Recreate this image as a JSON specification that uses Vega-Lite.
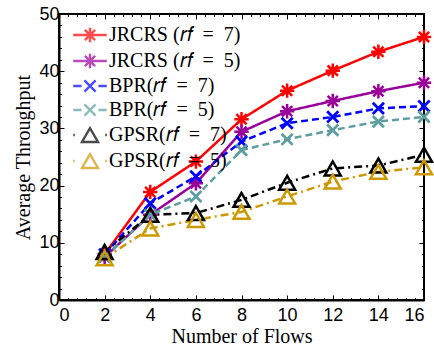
{
  "$schema": "https://vega.github.io/schema/vega-lite/v6.json",
  "width": 365,
  "height": 286,
  "autosize": "none",
  "padding": {"left": 59, "top": 14, "right": 10, "bottom": 46},
  "background": "white",
  "config": {
    "view": {"stroke": "black", "strokeWidth": 2},
    "axis": {"grid": false, "domainColor": "black", "domainWidth": 2, "tickColor": "black", "tickWidth": 1, "labelColor": "black", "titleColor": "black", "labelFont": "Liberation Sans", "labelFontSize": 18, "titleFont": "Liberation Serif", "titleFontSize": 20, "titleFontWeight": "normal"}
  },
  "data": {"values": [
      {"x": 2, "y": 8.0, "s": "JRCRS (𝑟𝑓\u2002=\u20027)"}, {"x": 4, "y": 18.9, "s": "JRCRS (𝑟𝑓\u2002=\u20027)"}, {"x": 6, "y": 24.2, "s": "JRCRS (𝑟𝑓\u2002=\u20027)"}, {"x": 8, "y": 31.6, "s": "JRCRS (𝑟𝑓\u2002=\u20027)"}, {"x": 10, "y": 36.6, "s": "JRCRS (𝑟𝑓\u2002=\u20027)"}, {"x": 12, "y": 40.1, "s": "JRCRS (𝑟𝑓\u2002=\u20027)"}, {"x": 14, "y": 43.4, "s": "JRCRS (𝑟𝑓\u2002=\u20027)"}, {"x": 16, "y": 46.0, "s": "JRCRS (𝑟𝑓\u2002=\u20027)"},
      {"x": 2, "y": 7.5, "s": "JRCRS (𝑟𝑓\u2002=\u20025)"}, {"x": 4, "y": 14.9, "s": "JRCRS (𝑟𝑓\u2002=\u20025)"}, {"x": 6, "y": 20.4, "s": "JRCRS (𝑟𝑓\u2002=\u20025)"}, {"x": 8, "y": 29.4, "s": "JRCRS (𝑟𝑓\u2002=\u20025)"}, {"x": 10, "y": 33.0, "s": "JRCRS (𝑟𝑓\u2002=\u20025)"}, {"x": 12, "y": 34.8, "s": "JRCRS (𝑟𝑓\u2002=\u20025)"}, {"x": 14, "y": 36.5, "s": "JRCRS (𝑟𝑓\u2002=\u20025)"}, {"x": 16, "y": 38.0, "s": "JRCRS (𝑟𝑓\u2002=\u20025)"},
      {"x": 2, "y": 8.0, "s": "BPR(𝑟𝑓\u2002=\u20027)"}, {"x": 4, "y": 16.9, "s": "BPR(𝑟𝑓\u2002=\u20027)"}, {"x": 6, "y": 21.6, "s": "BPR(𝑟𝑓\u2002=\u20027)"}, {"x": 8, "y": 27.7, "s": "BPR(𝑟𝑓\u2002=\u20027)"}, {"x": 10, "y": 30.9, "s": "BPR(𝑟𝑓\u2002=\u20027)"}, {"x": 12, "y": 32.0, "s": "BPR(𝑟𝑓\u2002=\u20027)"}, {"x": 14, "y": 33.5, "s": "BPR(𝑟𝑓\u2002=\u20027)"}, {"x": 16, "y": 33.9, "s": "BPR(𝑟𝑓\u2002=\u20027)"},
      {"x": 2, "y": 7.5, "s": "BPR(𝑟𝑓\u2002=\u20025)"}, {"x": 4, "y": 14.9, "s": "BPR(𝑟𝑓\u2002=\u20025)"}, {"x": 6, "y": 18.1, "s": "BPR(𝑟𝑓\u2002=\u20025)"}, {"x": 8, "y": 26.2, "s": "BPR(𝑟𝑓\u2002=\u20025)"}, {"x": 10, "y": 28.1, "s": "BPR(𝑟𝑓\u2002=\u20025)"}, {"x": 12, "y": 29.7, "s": "BPR(𝑟𝑓\u2002=\u20025)"}, {"x": 14, "y": 31.2, "s": "BPR(𝑟𝑓\u2002=\u20025)"}, {"x": 16, "y": 32.0, "s": "BPR(𝑟𝑓\u2002=\u20025)"},
      {"x": 2, "y": 8.4, "s": "GPSR(𝑟𝑓\u2002=\u20027)"}, {"x": 4, "y": 14.9, "s": "GPSR(𝑟𝑓\u2002=\u20027)"}, {"x": 6, "y": 15.2, "s": "GPSR(𝑟𝑓\u2002=\u20027)"}, {"x": 8, "y": 17.5, "s": "GPSR(𝑟𝑓\u2002=\u20027)"}, {"x": 10, "y": 20.5, "s": "GPSR(𝑟𝑓\u2002=\u20027)"}, {"x": 12, "y": 23.0, "s": "GPSR(𝑟𝑓\u2002=\u20027)"}, {"x": 14, "y": 23.5, "s": "GPSR(𝑟𝑓\u2002=\u20027)"}, {"x": 16, "y": 25.4, "s": "GPSR(𝑟𝑓\u2002=\u20027)"},
      {"x": 2, "y": 7.3, "s": "GPSR(𝑟𝑓\u2002=\u20025)"}, {"x": 4, "y": 12.5, "s": "GPSR(𝑟𝑓\u2002=\u20025)"}, {"x": 6, "y": 14.0, "s": "GPSR(𝑟𝑓\u2002=\u20025)"}, {"x": 8, "y": 15.4, "s": "GPSR(𝑟𝑓\u2002=\u20025)"}, {"x": 10, "y": 18.1, "s": "GPSR(𝑟𝑓\u2002=\u20025)"}, {"x": 12, "y": 20.7, "s": "GPSR(𝑟𝑓\u2002=\u20025)"}, {"x": 14, "y": 22.4, "s": "GPSR(𝑟𝑓\u2002=\u20025)"}, {"x": 16, "y": 23.2, "s": "GPSR(𝑟𝑓\u2002=\u20025)"}
  ]},
  "resolve": {"axis": {"x": "independent", "y": "independent"}, "scale": {"color": "independent", "shape": "independent"}},
  "layer": [
    {
      "mark": {"type": "line", "strokeWidth": 2.5},
      "encoding": {
        "x": {"field": "x", "type": "quantitative", "scale": {"domain": [0, 16], "nice": false}, "axis": {"values": [0, 2, 4, 6, 8, 10, 12, 14, 16], "tickSize": -5, "labelPadding": 11, "title": "Number of Flows", "titlePadding": 2}},
        "y": {"field": "y", "type": "quantitative", "scale": {"domain": [0, 50], "nice": false}, "axis": {"values": [0, 10, 20, 30, 40, 50], "tickSize": -5, "labelPadding": 5, "title": "Average Throughput", "titlePadding": 5}},
        "color": {"field": "s", "type": "nominal", "sort": null, "legend": null,
          "scale": {"domain": ["JRCRS (𝑟𝑓\u2002=\u20027)", "JRCRS (𝑟𝑓\u2002=\u20025)", "BPR(𝑟𝑓\u2002=\u20027)", "BPR(𝑟𝑓\u2002=\u20025)", "GPSR(𝑟𝑓\u2002=\u20027)", "GPSR(𝑟𝑓\u2002=\u20025)"], "range": ["#ff0000", "#990099", "#0000ff", "#5f9ea0", "#000000", "#cc9900"]}},
        "strokeDash": {"field": "s", "type": "nominal", "sort": null, "legend": null,
          "scale": {"domain": ["JRCRS (𝑟𝑓\u2002=\u20027)", "JRCRS (𝑟𝑓\u2002=\u20025)", "BPR(𝑟𝑓\u2002=\u20027)", "BPR(𝑟𝑓\u2002=\u20025)", "GPSR(𝑟𝑓\u2002=\u20027)", "GPSR(𝑟𝑓\u2002=\u20025)"], "range": [[1, 0], [1, 0], [7, 4], [7, 4], [8, 4, 2, 4], [8, 4, 2, 4]]}}
      }
    },
    {
      "transform": [{"filter": "indexof(datum.s, 'JRCRS') == 0"}],
      "mark": {"type": "point", "filled": false, "size": 256, "strokeWidth": 2.5, "opacity": 1, "shape": "M-0.9,0H0.9M0,-0.9V0.9M-0.64,-0.64L0.64,0.64M-0.64,0.64L0.64,-0.64"},
      "encoding": {
        "x": {"field": "x", "type": "quantitative", "axis": {"orient": "top", "values": [0, 2, 4, 6, 8, 10, 12, 14, 16], "tickSize": -5, "labels": false, "domain": false, "title": null}},
        "y": {"field": "y", "type": "quantitative", "axis": {"orient": "right", "values": [0, 10, 20, 30, 40, 50], "tickSize": -5, "labels": false, "domain": false, "title": null}},
        "color": {"field": "s", "type": "nominal", "sort": null, "legend": null,
          "scale": {"domain": ["JRCRS (𝑟𝑓\u2002=\u20027)", "JRCRS (𝑟𝑓\u2002=\u20025)", "BPR(𝑟𝑓\u2002=\u20027)", "BPR(𝑟𝑓\u2002=\u20025)", "GPSR(𝑟𝑓\u2002=\u20027)", "GPSR(𝑟𝑓\u2002=\u20025)"], "range": ["#ff0000", "#990099", "#0000ff", "#5f9ea0", "#000000", "#cc9900"]}}
      }
    },
    {
      "transform": [{"filter": "indexof(datum.s, 'BPR') == 0"}],
      "mark": {"type": "point", "filled": false, "size": 256, "strokeWidth": 2.8, "opacity": 1, "shape": "M-0.7,-0.7L0.7,0.7M-0.7,0.7L0.7,-0.7"},
      "encoding": {
        "x": {"field": "x", "type": "quantitative", "axis": {"orient": "bottom", "values": [0.4, 0.8, 1.2, 1.6, 2.4, 2.8, 3.2, 3.6, 4.4, 4.8, 5.2, 5.6, 6.4, 6.8, 7.2, 7.6, 8.4, 8.8, 9.2, 9.6, 10.4, 10.8, 11.2, 11.6, 12.4, 12.8, 13.2, 13.6, 14.4, 14.8, 15.2, 15.6], "tickSize": -2.5, "labels": false, "domain": false, "title": null}},
        "y": {"field": "y", "type": "quantitative", "axis": {"orient": "left", "values": [2, 4, 6, 8, 12, 14, 16, 18, 22, 24, 26, 28, 32, 34, 36, 38, 42, 44, 46, 48], "tickSize": -2.5, "labels": false, "domain": false, "title": null}},
        "color": {"field": "s", "type": "nominal", "sort": null, "legend": null,
          "scale": {"domain": ["JRCRS (𝑟𝑓\u2002=\u20027)", "JRCRS (𝑟𝑓\u2002=\u20025)", "BPR(𝑟𝑓\u2002=\u20027)", "BPR(𝑟𝑓\u2002=\u20025)", "GPSR(𝑟𝑓\u2002=\u20027)", "GPSR(𝑟𝑓\u2002=\u20025)"], "range": ["#ff0000", "#990099", "#0000ff", "#5f9ea0", "#000000", "#cc9900"]}}
      }
    },
    {
      "transform": [{"filter": "indexof(datum.s, 'GPSR') == 0"}],
      "mark": {"type": "point", "filled": false, "size": 256, "strokeWidth": 2.5, "opacity": 1, "shape": "M0,-0.87L-1,0.87L1,0.87Z"},
      "encoding": {
        "x": {"field": "x", "type": "quantitative", "axis": {"orient": "top", "values": [0.4, 0.8, 1.2, 1.6, 2.4, 2.8, 3.2, 3.6, 4.4, 4.8, 5.2, 5.6, 6.4, 6.8, 7.2, 7.6, 8.4, 8.8, 9.2, 9.6, 10.4, 10.8, 11.2, 11.6, 12.4, 12.8, 13.2, 13.6, 14.4, 14.8, 15.2, 15.6], "tickSize": -2.5, "labels": false, "domain": false, "title": null}},
        "y": {"field": "y", "type": "quantitative", "axis": {"orient": "right", "values": [2, 4, 6, 8, 12, 14, 16, 18, 22, 24, 26, 28, 32, 34, 36, 38, 42, 44, 46, 48], "tickSize": -2.5, "labels": false, "domain": false, "title": null}},
        "color": {"field": "s", "type": "nominal", "sort": null, "legend": null,
          "scale": {"domain": ["JRCRS (𝑟𝑓\u2002=\u20027)", "JRCRS (𝑟𝑓\u2002=\u20025)", "BPR(𝑟𝑓\u2002=\u20027)", "BPR(𝑟𝑓\u2002=\u20025)", "GPSR(𝑟𝑓\u2002=\u20027)", "GPSR(𝑟𝑓\u2002=\u20025)"], "range": ["#ff0000", "#990099", "#0000ff", "#5f9ea0", "#000000", "#cc9900"]}}
      }
    },
    {
      "transform": [{"filter": "datum.x < 0"}],
      "mark": {"type": "point", "filled": false, "size": 256, "strokeWidth": 2.4},
      "encoding": {
        "color": {"field": "s", "type": "nominal", "sort": null,
          "scale": {"domain": ["JRCRS (𝑟𝑓\u2002=\u20027)", "JRCRS (𝑟𝑓\u2002=\u20025)", "BPR(𝑟𝑓\u2002=\u20027)", "BPR(𝑟𝑓\u2002=\u20025)", "GPSR(𝑟𝑓\u2002=\u20027)", "GPSR(𝑟𝑓\u2002=\u20025)"], "range": ["#ff0000", "#990099", "#0000ff", "#5f9ea0", "#000000", "#cc9900"]},
          "legend": {"title": null, "orient": "none", "legendX": 21, "legendY": 11, "padding": 0, "rowPadding": 2, "symbolSize": 256, "symbolStrokeWidth": 2.4, "labelOffset": 9, "labelFont": "Liberation Serif", "labelFontSize": 20, "labelColor": "black", "labelLimit": 300}},
        "shape": {"field": "s", "type": "nominal", "sort": null,
          "scale": {"domain": ["JRCRS (𝑟𝑓\u2002=\u20027)", "JRCRS (𝑟𝑓\u2002=\u20025)", "BPR(𝑟𝑓\u2002=\u20027)", "BPR(𝑟𝑓\u2002=\u20025)", "GPSR(𝑟𝑓\u2002=\u20027)", "GPSR(𝑟𝑓\u2002=\u20025)"], "range": ["M-2.1,0H2.1M-0.9,0H0.9M0,-0.9V0.9M-0.64,-0.64L0.64,0.64M-0.64,0.64L0.64,-0.64", "M-2.1,0H2.1M-0.9,0H0.9M0,-0.9V0.9M-0.64,-0.64L0.64,0.64M-0.64,0.64L0.64,-0.64", "M-2.1,0H-1.05M1.05,0H2.1M-0.7,-0.7L0.7,0.7M-0.7,0.7L0.7,-0.7", "M-2.1,0H-1.05M1.05,0H2.1M-0.7,-0.7L0.7,0.7M-0.7,0.7L0.7,-0.7", "M-2.1,0H-1.9M1.9,0H2.1M0,-0.87L-1,0.87L1,0.87Z", "M-2.1,0H-1.9M1.9,0H2.1M0,-0.87L-1,0.87L1,0.87Z"]},
          "legend": {"title": null, "orient": "none", "legendX": 21, "legendY": 11, "padding": 0, "rowPadding": 2, "symbolSize": 256, "symbolStrokeWidth": 2.4, "labelOffset": 9, "labelFont": "Liberation Serif", "labelFontSize": 20, "labelColor": "black", "labelLimit": 300}}
      }
    }
  ]
}
